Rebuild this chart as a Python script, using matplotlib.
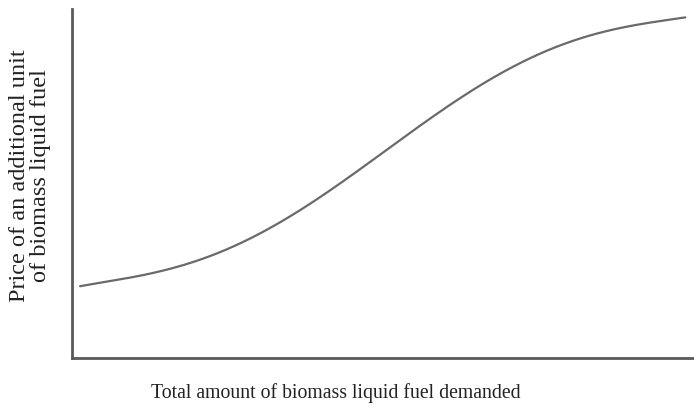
import matplotlib
matplotlib.use("Agg")
import matplotlib.pyplot as plt
import numpy as np

# Curve (arbitrary units, 0-100 on each axis)
quantity = [1.3, 6.1, 12.5, 19.0, 25.4, 30.2, 36.7, 43.1, 49.5, 54.3, 60.8, 67.2, 73.6, 78.5, 84.9, 91.3, 98.6]
price = [20.6, 21.8, 24.4, 27.5, 31.5, 35.2, 42.4, 50.1, 57.6, 65.3, 73.1, 79.7, 84.8, 89.7, 93.4, 96.0, 97.4]

xlabel = "Total amount of biomass liquid fuel demanded"
ylabel = "Price of an additional unit\nof biomass liquid fuel"

plt.rcParams['font.family'] = ['Liberation Serif', 'DejaVu Serif']

fig = plt.figure(figsize=(6.94, 4.15), dpi=100)
ax = fig.add_axes([72/694, (415-358)/415, 1 - 72/694, (358-9)/415])

# smooth the hand-read points with a least-squares polynomial
coef = np.polyfit(quantity, price, 5)
cx = np.linspace(quantity[0], quantity[-1], 300)
cy = np.polyval(coef, cx)
ax.plot(cx, cy, color='#6a6a6a', lw=1.6, solid_capstyle='round')

ax.set_xlim(0, 100)
ax.set_ylim(0, 100)
ax.set_xticks([])
ax.set_yticks([])
for s in ['top', 'right']:
    ax.spines[s].set_visible(False)
for s in ['left', 'bottom']:
    ax.spines[s].set_color('#5a5a5a')
    ax.spines[s].set_linewidth(2.0)

fig.text(336/694, 1 - 393/415, xlabel, ha='center', va='center', fontsize=14.2, color='#222222')
fig.text(30/694, 1 - 176/415, ylabel, ha='center', va='center', rotation=90,
         multialignment='center', fontsize=17.5, color='#222222', linespacing=1.0)

fig.savefig("out.png", dpi=100)
